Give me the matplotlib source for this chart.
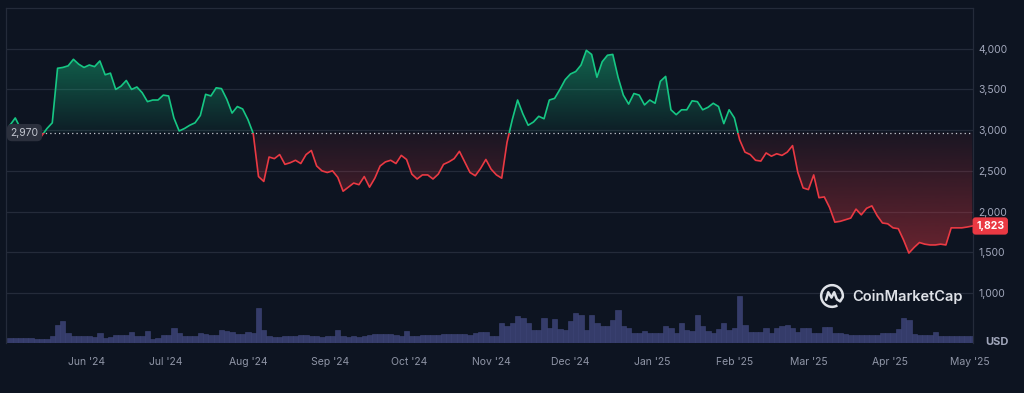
import numpy as np
import pandas as pd
import matplotlib
matplotlib.use("Agg")
import matplotlib.pyplot as plt
import matplotlib.dates as mdates
from matplotlib.patches import Rectangle, FancyBboxPatch, Arc

plt.rcParams['font.family'] = ['Inter', 'DejaVu Sans']

# ETH / USD, one value every 2 days starting 3 May 2024
start_date = "2024-05-03"
prices = [
    3060, 3150, 3020, 2960, 2920, 2940, 2930, 3020, 3090, 3760,
    3770, 3790, 3870, 3810, 3770, 3800, 3780, 3850, 3680, 3700,
    3500, 3540, 3610, 3500, 3530, 3460, 3350, 3370, 3370, 3430,
    3420, 3150, 2990, 3020, 3060, 3090, 3180, 3440, 3420, 3520,
    3510, 3380, 3210, 3290, 3260, 3130, 2960, 2430, 2370, 2670,
    2650, 2700, 2580, 2600, 2630, 2590, 2700, 2750, 2560, 2500,
    2480, 2500, 2420, 2250, 2300, 2350, 2330, 2430, 2300, 2410,
    2560, 2610, 2630, 2590, 2690, 2640, 2460, 2400, 2450, 2450,
    2400, 2460, 2580, 2610, 2650, 2740, 2610, 2480, 2440, 2530,
    2640, 2520, 2450, 2410, 2850, 3130, 3370, 3200, 3060, 3100,
    3170, 3140, 3370, 3390, 3500, 3620, 3690, 3720, 3800, 3980,
    3930, 3650, 3840, 3920, 3930, 3650, 3430, 3320, 3450, 3430,
    3310, 3370, 3330, 3600, 3660, 3250, 3190, 3250, 3250, 3360,
    3350, 3250, 3280, 3330, 3290, 3080, 3250, 3150, 2880, 2730,
    2700, 2630, 2620, 2720, 2680, 2710, 2690, 2730, 2810, 2480,
    2290, 2270, 2450, 2170, 2180, 2050, 1870, 1880, 1900, 1920,
    2030, 1960, 2040, 2070, 1950, 1860, 1850, 1800, 1790, 1650,
    1490, 1560, 1620, 1600, 1590, 1590, 1600, 1590, 1800, 1800,
    1800, 1810, 1823,
]
# traded volume, billions USD, same dates
volume_bn = [
    10, 10, 10, 10, 10, 8, 8, 8, 14, 36,
    44, 20, 14, 14, 14, 14, 12, 20, 10, 12,
    16, 16, 16, 22, 14, 14, 24, 8, 10, 16,
    16, 30, 20, 14, 14, 14, 20, 18, 16, 16,
    26, 24, 22, 18, 18, 22, 20, 70, 26, 14,
    12, 12, 14, 14, 14, 16, 16, 14, 14, 12,
    14, 14, 26, 14, 12, 14, 12, 14, 16, 18,
    18, 18, 18, 16, 14, 24, 14, 14, 16, 16,
    16, 16, 18, 18, 18, 18, 18, 16, 20, 22,
    22, 14, 14, 40, 34, 40, 54, 50, 40, 26,
    26, 50, 30, 48, 28, 26, 44, 60, 56, 26,
    56, 40, 34, 34, 46, 66, 34, 30, 20, 20,
    24, 20, 20, 20, 34, 30, 20, 40, 26, 24,
    56, 34, 24, 20, 28, 40, 26, 30, 94, 36,
    22, 22, 22, 30, 20, 30, 34, 36, 30, 22,
    30, 30, 20, 20, 32, 32, 20, 20, 18, 16,
    16, 16, 16, 16, 16, 20, 20, 20, 28, 50,
    46, 18, 16, 16, 16, 22, 14, 14, 14, 14,
    14, 14, 14,
]
reference = 2970
last_price = 1823
price_ticks = [1000, 1500, 2000, 2500, 3000, 3500, 4000]

dates = pd.date_range(start_date, periods=len(prices), freq="2D")
x = mdates.date2num(dates)
p = np.array(prices, dtype=float)

bg = '#0d1421'
grid_c = '#242b3a'
green = '#16c784'
red = '#ea3943'

fig = plt.figure(figsize=(10.24, 3.93), dpi=100, facecolor=bg)
rect = [6 / 1024, 50 / 393, 967 / 1024, 335 / 393]
axv = fig.add_axes(rect, zorder=0)
ax = fig.add_axes(rect, zorder=1, sharex=axv)
axv.set_facecolor(bg)
ax.patch.set_alpha(0)

x0 = mdates.date2num(pd.Timestamp("2024-05-01 12:00"))
x1 = mdates.date2num(pd.Timestamp("2025-05-02 06:00"))
ax.set_xlim(x0, x1)
ax.set_ylim(386, 4500)

# volume
axv.bar(x, volume_bn, width=2.0, color='#353c6a', edgecolor='#3f4679', linewidth=0.4, align='center')
axv.set_ylim(0, 670)
axv.axis('off')

# grid and frame
for t in price_ticks:
    ax.axhline(t, color=grid_c, lw=0.9, zorder=0)
for s in ['left', 'top', 'right']:
    ax.spines[s].set_color(grid_c)
    ax.spines[s].set_linewidth(0.9)
ax.spines['bottom'].set_visible(False)


def gradient(lo, hi, color, a_lo, a_hi, clip):
    rgb = matplotlib.colors.to_rgb(color)
    n = 256
    img = np.zeros((n, 1, 4))
    img[:, 0, :3] = rgb
    img[:, 0, 3] = np.linspace(a_hi, a_lo, n)
    im = ax.imshow(img, extent=[x0, x1, lo, hi], origin='upper', aspect='auto', zorder=1)
    im.set_clip_path(clip.get_paths()[0], transform=ax.transData)


up = ax.fill_between(x, reference, np.maximum(p, reference), color='none', lw=0)
dn = ax.fill_between(x, np.minimum(p, reference), reference, color='none', lw=0)
gradient(reference, 4100, green, 0.05, 0.50, up)
# red: stronger further below the reference
rgb = matplotlib.colors.to_rgb(red)
img = np.zeros((256, 1, 4))
img[:, 0, :3] = rgb
img[:, 0, 3] = np.linspace(0.06, 0.42, 256)
im = ax.imshow(img, extent=[x0, x1, 1450, reference], origin='upper', aspect='auto', zorder=1)
im.set_clip_path(dn.get_paths()[0], transform=ax.transData)
ax.set_ylim(386, 4500)
ax.set_xlim(x0, x1)

# price line, green above reference, red below
lg, = ax.plot(x, p, color=green, lw=1.2, zorder=3, solid_joinstyle='round')
lr, = ax.plot(x, p, color=red, lw=1.2, zorder=3, solid_joinstyle='round')
lg.set_clip_path(Rectangle((x0, reference), x1 - x0, 5000, transform=ax.transData))
lr.set_clip_path(Rectangle((x0, 0), x1 - x0, reference, transform=ax.transData))

ax.axhline(reference, color='#c9ccd4', lw=0.9, ls=(0, (1, 2.5)), zorder=2.5)

# axes labels
ax.yaxis.tick_right()
ax.set_yticks(price_ticks)
ax.set_yticklabels([f"{t:,}" for t in price_ticks])
ax.tick_params(axis='y', length=0, pad=4, labelsize=7.5, labelcolor='#a1a7bb')
ax.xaxis.set_major_locator(mdates.MonthLocator())
ax.xaxis.set_major_formatter(mdates.DateFormatter("%b '%y"))
ax.tick_params(axis='x', length=0, pad=10, labelsize=7.5, labelcolor='#8f95a6')
axv.tick_params(length=0)

fig.text(985 / 1024, 1 - 342 / 393, "USD", color='#a1a7bb', fontsize=8, fontweight='bold', va='center', ha='left')

# reference value badge
ax.text(x0 + 1.7, reference, f"{reference:,}", color='#c3c7d0', fontsize=7.5, va='center', ha='left', zorder=6,
        bbox=dict(boxstyle='round,pad=0.35,rounding_size=0.5', fc='#2b303d', ec='none'))
# last price badge
ax.text(x1 + 1.2, last_price, f"{last_price:,}", color='white', fontsize=7.5, fontweight='bold',
        va='center', ha='left', zorder=6, clip_on=False,
        bbox=dict(boxstyle='round,pad=0.35,rounding_size=0.3', fc=red, ec='none'))

# watermark
fig.text(852 / 1024, 1 - 297 / 393, "CoinMarketCap", color='#dfe2e8', fontsize=10.5, fontweight='semibold',
         va='center', ha='left')
lax = fig.add_axes([819 / 1024, 1 - 309 / 393, 26 / 1024, 26 / 393], zorder=3)
lax.set_xlim(-1.2, 1.2)
lax.set_ylim(-1.2, 1.2)
lax.axis('off')
lax.add_patch(Arc((0, 0), 2.0, 2.0, theta1=-5, theta2=300, color='#dfe2e8', lw=1.8))
lax.plot([-0.55, -0.35, -0.05, 0.2, 0.45, 0.75, 1.0], [-0.35, 0.35, -0.15, 0.35, -0.3, -0.5, -0.1],
         color='#dfe2e8', lw=1.8, solid_capstyle='round')

fig.savefig("out.png", dpi=100, facecolor=bg)
